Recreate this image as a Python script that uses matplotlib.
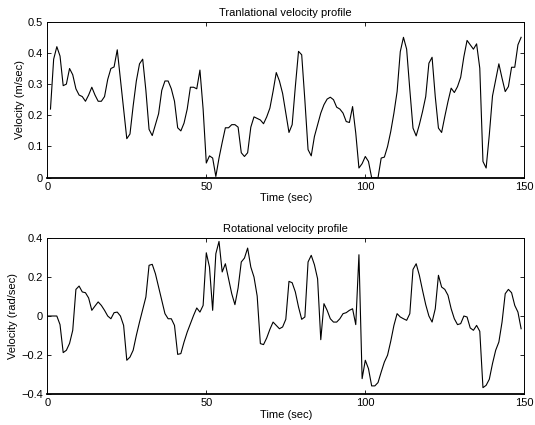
import matplotlib
matplotlib.use("Agg")
import matplotlib.pyplot as plt
import numpy as np

plt.rcParams['font.family'] = ['Liberation Sans', 'DejaVu Sans']

# Translational velocity (m/sec), t = 1..149
trans_t = list(range(1, 150))
trans_v = [
    0.22, 0.38, 0.42, 0.39, 0.295, 0.30, 0.35, 0.33, 0.285, 0.265,
    0.26, 0.245, 0.265, 0.29, 0.265, 0.245, 0.245, 0.26, 0.315, 0.35,
    0.355, 0.41, 0.315, 0.22, 0.125, 0.14, 0.23, 0.31, 0.365, 0.38,
    0.28, 0.155, 0.135, 0.17, 0.205, 0.28, 0.31, 0.31, 0.285, 0.245,
    0.16, 0.15, 0.175, 0.22, 0.29, 0.29, 0.285, 0.345, 0.22, 0.047,
    0.07, 0.063, 0.004, 0.063, 0.113, 0.16, 0.16, 0.17, 0.17, 0.162,
    0.08, 0.068, 0.08, 0.162, 0.195, 0.19, 0.185, 0.173, 0.195, 0.223,
    0.277, 0.337, 0.31, 0.27, 0.207, 0.145, 0.17, 0.292, 0.405, 0.394,
    0.248, 0.09, 0.07, 0.132, 0.17, 0.207, 0.234, 0.252, 0.258, 0.25,
    0.226, 0.22, 0.207, 0.18, 0.177, 0.228, 0.143, 0.031, 0.045, 0.068,
    0.052, 0.0, 0.0, 0.0, 0.063, 0.066, 0.10, 0.148, 0.207, 0.276,
    0.404, 0.45, 0.412, 0.282, 0.159, 0.134, 0.17, 0.212, 0.26, 0.367,
    0.386, 0.26, 0.159, 0.145, 0.196, 0.244, 0.287, 0.273, 0.292, 0.322,
    0.388, 0.44, 0.426, 0.412, 0.429, 0.351, 0.052, 0.031, 0.138, 0.262,
    0.314, 0.365, 0.319, 0.276, 0.292, 0.354, 0.354, 0.426, 0.45,
]

# Rotational velocity (rad/sec), t = 0..149
rot_t = list(range(0, 150))
rot_v = [
    0.0, 0.0, 0.0, 0.0, -0.044, -0.187, -0.175, -0.14, -0.073, 0.136,
    0.153, 0.123, 0.119, 0.092, 0.029, 0.051, 0.072, 0.054, 0.029, 0.0,
    -0.014, 0.017, 0.02, 0.0, -0.048, -0.226, -0.21, -0.175, -0.099, -0.031,
    0.034, 0.097, 0.259, 0.264, 0.216, 0.148, 0.08, 0.012, -0.014, -0.014,
    -0.048, -0.196, -0.192, -0.133, -0.082, -0.039, 0.003, 0.041, 0.02, 0.054,
    0.323, 0.25, 0.029, 0.318, 0.381, 0.225, 0.267, 0.19, 0.114, 0.058,
    0.143, 0.276, 0.296, 0.347, 0.25, 0.199, 0.102, -0.141, -0.146, -0.112,
    -0.068, -0.031, -0.048, -0.065, -0.056, -0.017, 0.177, 0.17, 0.123, 0.046,
    -0.017, -0.005, 0.276, 0.31, 0.262, 0.19, -0.121, 0.063, 0.029, -0.014,
    -0.031, -0.031, -0.014, 0.012, 0.017, 0.029, 0.037, -0.044, 0.313, -0.32,
    -0.226, -0.269, -0.357, -0.357, -0.34, -0.286, -0.235, -0.20, -0.129, -0.048,
    0.012, -0.005, -0.014, -0.022, 0.012, 0.238, 0.267, 0.208, 0.131, 0.058,
    0.0, -0.031, 0.037, 0.208, 0.148, 0.136, 0.106, 0.037, -0.014, -0.044,
    -0.039, 0.0, -0.005, -0.061, -0.073, -0.048, -0.078, -0.366, -0.354, -0.323,
    -0.243, -0.175, -0.133, -0.031, 0.114, 0.136, 0.119, 0.054, 0.02, -0.065,
]

x_ticks = [0, 50, 100, 150]
top_yticks = [0, 0.1, 0.2, 0.3, 0.4, 0.5]
bot_yticks = [-0.4, -0.2, 0, 0.2, 0.4]

fig = plt.figure(figsize=(5.35, 4.25), dpi=100)
ax1 = fig.add_axes([0.0884, 0.5819, 0.8916, 0.367])
ax2 = fig.add_axes([0.0884, 0.0722, 0.8916, 0.3685])

fs = 8

def style(ax):
    ax.tick_params(direction='in', top=True, right=True, length=3, width=0.6,
                   labelsize=fs, pad=3)
    for s in ax.spines.values():
        s.set_linewidth(0.7)
    ax.spines['bottom'].set_linewidth(1.3)

ax1.plot(trans_t, trans_v, color='black', linewidth=0.8)
ax1.set_xlim(0, 150)
ax1.set_ylim(0, 0.5)
ax1.set_xticks(x_ticks)
ax1.set_yticks(top_yticks)
ax1.set_yticklabels(['0', '0.1', '0.2', '0.3', '0.4', '0.5'])
ax1.set_title('Tranlational velocity profile', fontsize=fs, pad=4)
ax1.set_xlabel('Time (sec)', fontsize=fs, labelpad=1)
ax1.set_ylabel('Velocity (m/sec)', fontsize=fs, labelpad=2)
style(ax1)

ax2.plot(rot_t, rot_v, color='black', linewidth=0.8)
ax2.set_xlim(0, 150)
ax2.set_ylim(-0.4, 0.4)
ax2.set_xticks(x_ticks)
ax2.set_yticks(bot_yticks)
ax2.set_yticklabels(['\u22120.4', '\u22120.2', '0', '0.2', '0.4'])
ax2.set_title('Rotational velocity profile', fontsize=fs, pad=4)
ax2.set_xlabel('Time (sec)', fontsize=fs, labelpad=1)
ax2.set_ylabel('Velocity (rad/sec)', fontsize=fs, labelpad=2)
style(ax2)

fig.savefig('out.png', dpi=100)
